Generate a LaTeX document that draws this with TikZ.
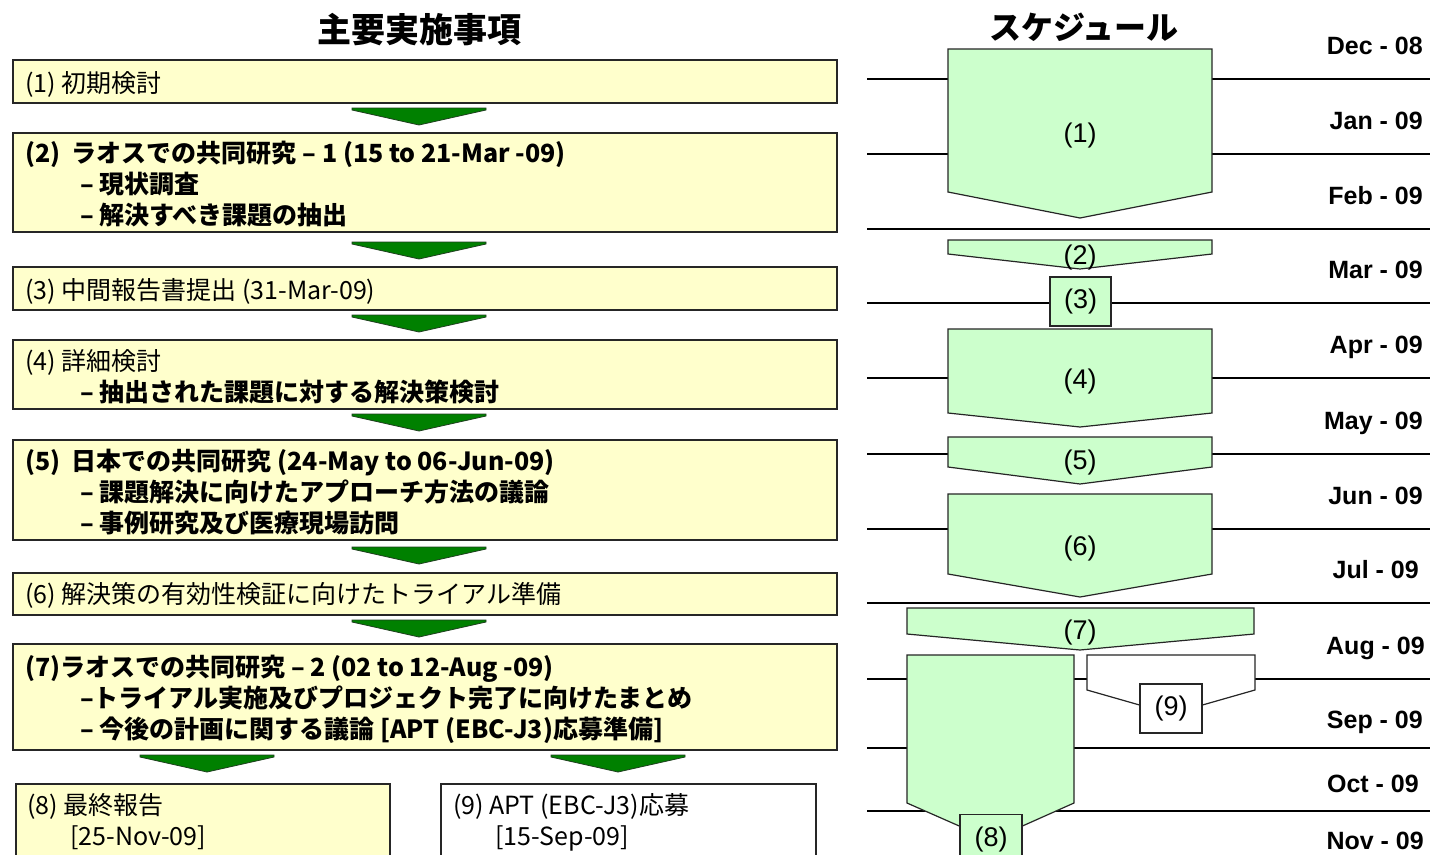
\documentclass[tikz,border=0pt]{standalone}
\usepackage{fontspec}
\setmainfont{Liberation Sans}
\newfontfamily\jp{Noto Sans CJK JP}
\definecolor{boxyellow}{HTML}{FFFFCC}
\definecolor{arrowgreen}{HTML}{008000}
\definecolor{arrowedge}{HTML}{1F3F1F}
\definecolor{schedgreen}{HTML}{CCFFCC}
\begin{document}
\begin{tikzpicture}[x=1pt,y=-1pt,
  ybox/.style={draw=black!85, line width=1.5pt, fill=boxyellow, anchor=north west, inner sep=0},
  wbox/.style={ybox, fill=white},
  garrow/.style={draw=arrowedge, line width=0.8pt, fill=arrowgreen, line join=miter},
  sched/.style={draw=black!85, line width=1.2pt, fill=schedgreen},
  schedw/.style={sched, fill=white},
  mline/.style={draw=black, line width=1.5pt},
  txt/.style={anchor=base west, inner sep=0, font=\jp\fontsize{25}{30}\selectfont},
  btxt/.style={anchor=base west, inner sep=0, font=\jp\bfseries\fontsize{25}{30}\selectfont},
  month/.style={anchor=east, inner sep=0, text height=18pt, text depth=0pt, font=\bfseries\fontsize{25}{30}\selectfont},
  lbl/.style={inner sep=0, text height=19.7pt, text depth=5.7pt, font=\fontsize{27}{30}\selectfont},
  ttl/.style={inner sep=0, font=\jp\bfseries\fontsize{34}{40}\selectfont}
]
\useasboundingbox[fill=white] (0,0) rectangle (1442,854);

% ---------- titles ----------
\node[ttl] (t1) at (419,30) {主要実施事項};
\node[ttl, font=\jp\bfseries\fontsize{32}{40}\selectfont] (t2) at (1084,27) {スケジュール};

% ---------- left boxes ----------
\node[ybox, minimum width=824pt, minimum height=43pt] (b1) at (12,59) {};
\node[ybox, minimum width=824pt, minimum height=99pt] (b2) at (12,132) {};
\node[ybox, minimum width=824pt, minimum height=43pt] (b3) at (12,266) {};
\node[ybox, minimum width=824pt, minimum height=69pt] (b4) at (12,339) {};
\node[ybox, minimum width=824pt, minimum height=100pt] (b5) at (12,439) {};
\node[ybox, minimum width=824pt, minimum height=42pt] (b6) at (12,572) {};
\node[ybox, minimum width=824pt, minimum height=106pt] (b7) at (12,643) {};
\node[ybox, minimum width=374pt, minimum height=90pt] (b8) at (15,783) {};
\node[wbox, minimum width=375pt, minimum height=90pt] (b9) at (440,783) {};

% ---------- left green arrows ----------
\foreach \cx/\ty in {419/108, 419/242, 419/315, 419/414, 419/547, 419/620, 207/755, 618/755}{
  \draw[garrow] (\cx-67,\ty) -- (\cx+67,\ty) -- (\cx+67,\ty+2) -- (\cx,\ty+17) -- (\cx-67,\ty+2) -- cycle;
}

% ---------- left texts ----------
\node[txt]  (x1)  at (25,92.5)  {(1) 初期検討};
\node[btxt] (x2a) at (25,162.5) {(2)\ \ ラオスでの共同研究 – 1 (15 to 21-Mar -09)};
\node[btxt] (x2b) at (80,193.5) {– 現状調査};
\node[btxt] (x2c) at (80,224.5) {– 解決すべき課題の抽出};
\node[txt]  (x3)  at (25,299.5) {(3) 中間報告書提出 (31-Mar-09)};
\node[txt]  (x4a) at (25,370.5) {(4) 詳細検討};
\node[btxt] (x4b) at (80,401.5) {– 抽出された課題に対する解決策検討};
\node[btxt] (x5a) at (25,470.5) {(5)\ \ 日本での共同研究 (24-May to 06-Jun-09)};
\node[btxt] (x5b) at (80,501.5) {– 課題解決に向けたアプローチ方法の議論};
\node[btxt] (x5c) at (80,532.5) {– 事例研究及び医療現場訪問};
\node[txt]  (x6)  at (25,603)   {(6) 解決策の有効性検証に向けたトライアル準備};
\node[btxt] (x7a) at (25,676.5) {(7)ラオスでの共同研究 – 2 (02 to 12-Aug -09)};
\node[btxt] (x7b) at (80,707.5) {–トライアル実施及びプロジェクト完了に向けたまとめ};
\node[btxt] (x7c) at (80,738.5) {– 今後の計画に関する議論 [APT (EBC-J3)応募準備]};
\node[txt]  (x8a) at (27,814.5) {(8) 最終報告};
\node[txt]  (x8b) at (70,845) {[25-Nov-09]};
\node[txt]  (x9a) at (453,814.5) {(9) APT (EBC-J3)応募};
\node[txt]  (x9b) at (495,845) {[15-Sep-09]};

% ---------- month lines ----------
\foreach \yy in {79,154,229,303,378,454,529,603,679,748,811}{
  \draw[mline] (867,\yy) -- (1430,\yy);
}

% ---------- month labels ----------
\node[month] (m1)  at (1423,45)  {Dec - 08};
\node[month] (m2)  at (1423,120) {Jan - 09};
\node[month] (m3)  at (1423,195) {Feb - 09};
\node[month] (m4)  at (1423,269) {Mar - 09};
\node[month] (m5)  at (1423,344) {Apr - 09};
\node[month] (m6)  at (1423,420) {May - 09};
\node[month] (m7)  at (1423,495) {Jun - 09};
\node[month] (m8)  at (1419,569) {Jul - 09};
\node[month] (m9)  at (1425,645) {Aug - 09};
\node[month] (m10) at (1423,719) {Sep - 09};
\node[month] (m11) at (1419,783) {Oct - 09};
\node[month] (m12) at (1424,840) {Nov - 09};

% ---------- schedule shapes ----------
\draw[sched] (948,49) -- (1212,49) -- (1212,192) -- (1080,218) -- (948,192) -- cycle;
\node[lbl] (s1) at (1080,135) {(1)};
\draw[sched] (948,240) -- (1212,240) -- (1212,254) -- (1080,269) -- (948,254) -- cycle;
\node[lbl] (s2) at (1080,257) {(2)};
\node[sched, lbl, minimum width=61pt, minimum height=49pt] (s3) at (1080.5,301.5) {(3)};
\draw[sched] (948,329) -- (1212,329) -- (1212,413) -- (1080,427) -- (948,413) -- cycle;
\node[lbl] (s4) at (1080,381) {(4)};
\draw[sched] (948,437) -- (1212,437) -- (1212,467) -- (1080,484) -- (948,467) -- cycle;
\node[lbl] (s5) at (1080,462) {(5)};
\draw[sched] (948,494) -- (1212,494) -- (1212,574) -- (1080,597) -- (948,574) -- cycle;
\node[lbl] (s6) at (1080,548) {(6)};
\draw[sched] (907,608) -- (1254,608) -- (1254,634) -- (1080,650) -- (907,634) -- cycle;
\node[lbl] (s7) at (1080,632) {(7)};
\draw[sched] (907,655) -- (1074,655) -- (1074,803) -- (991,840) -- (907,803) -- cycle;
\node[sched, minimum width=62pt, minimum height=56pt, anchor=north] (s8) at (991,814) {};
\node[lbl] (s8t) at (991,839) {(8)};
\draw[schedw] (1087,655) -- (1255,655) -- (1255,690) -- (1171,714) -- (1087,690) -- cycle;
\node[schedw, lbl, minimum width=62pt, minimum height=49pt] (s9) at (1171,708.5) {(9)};
\end{tikzpicture}
\end{document}
